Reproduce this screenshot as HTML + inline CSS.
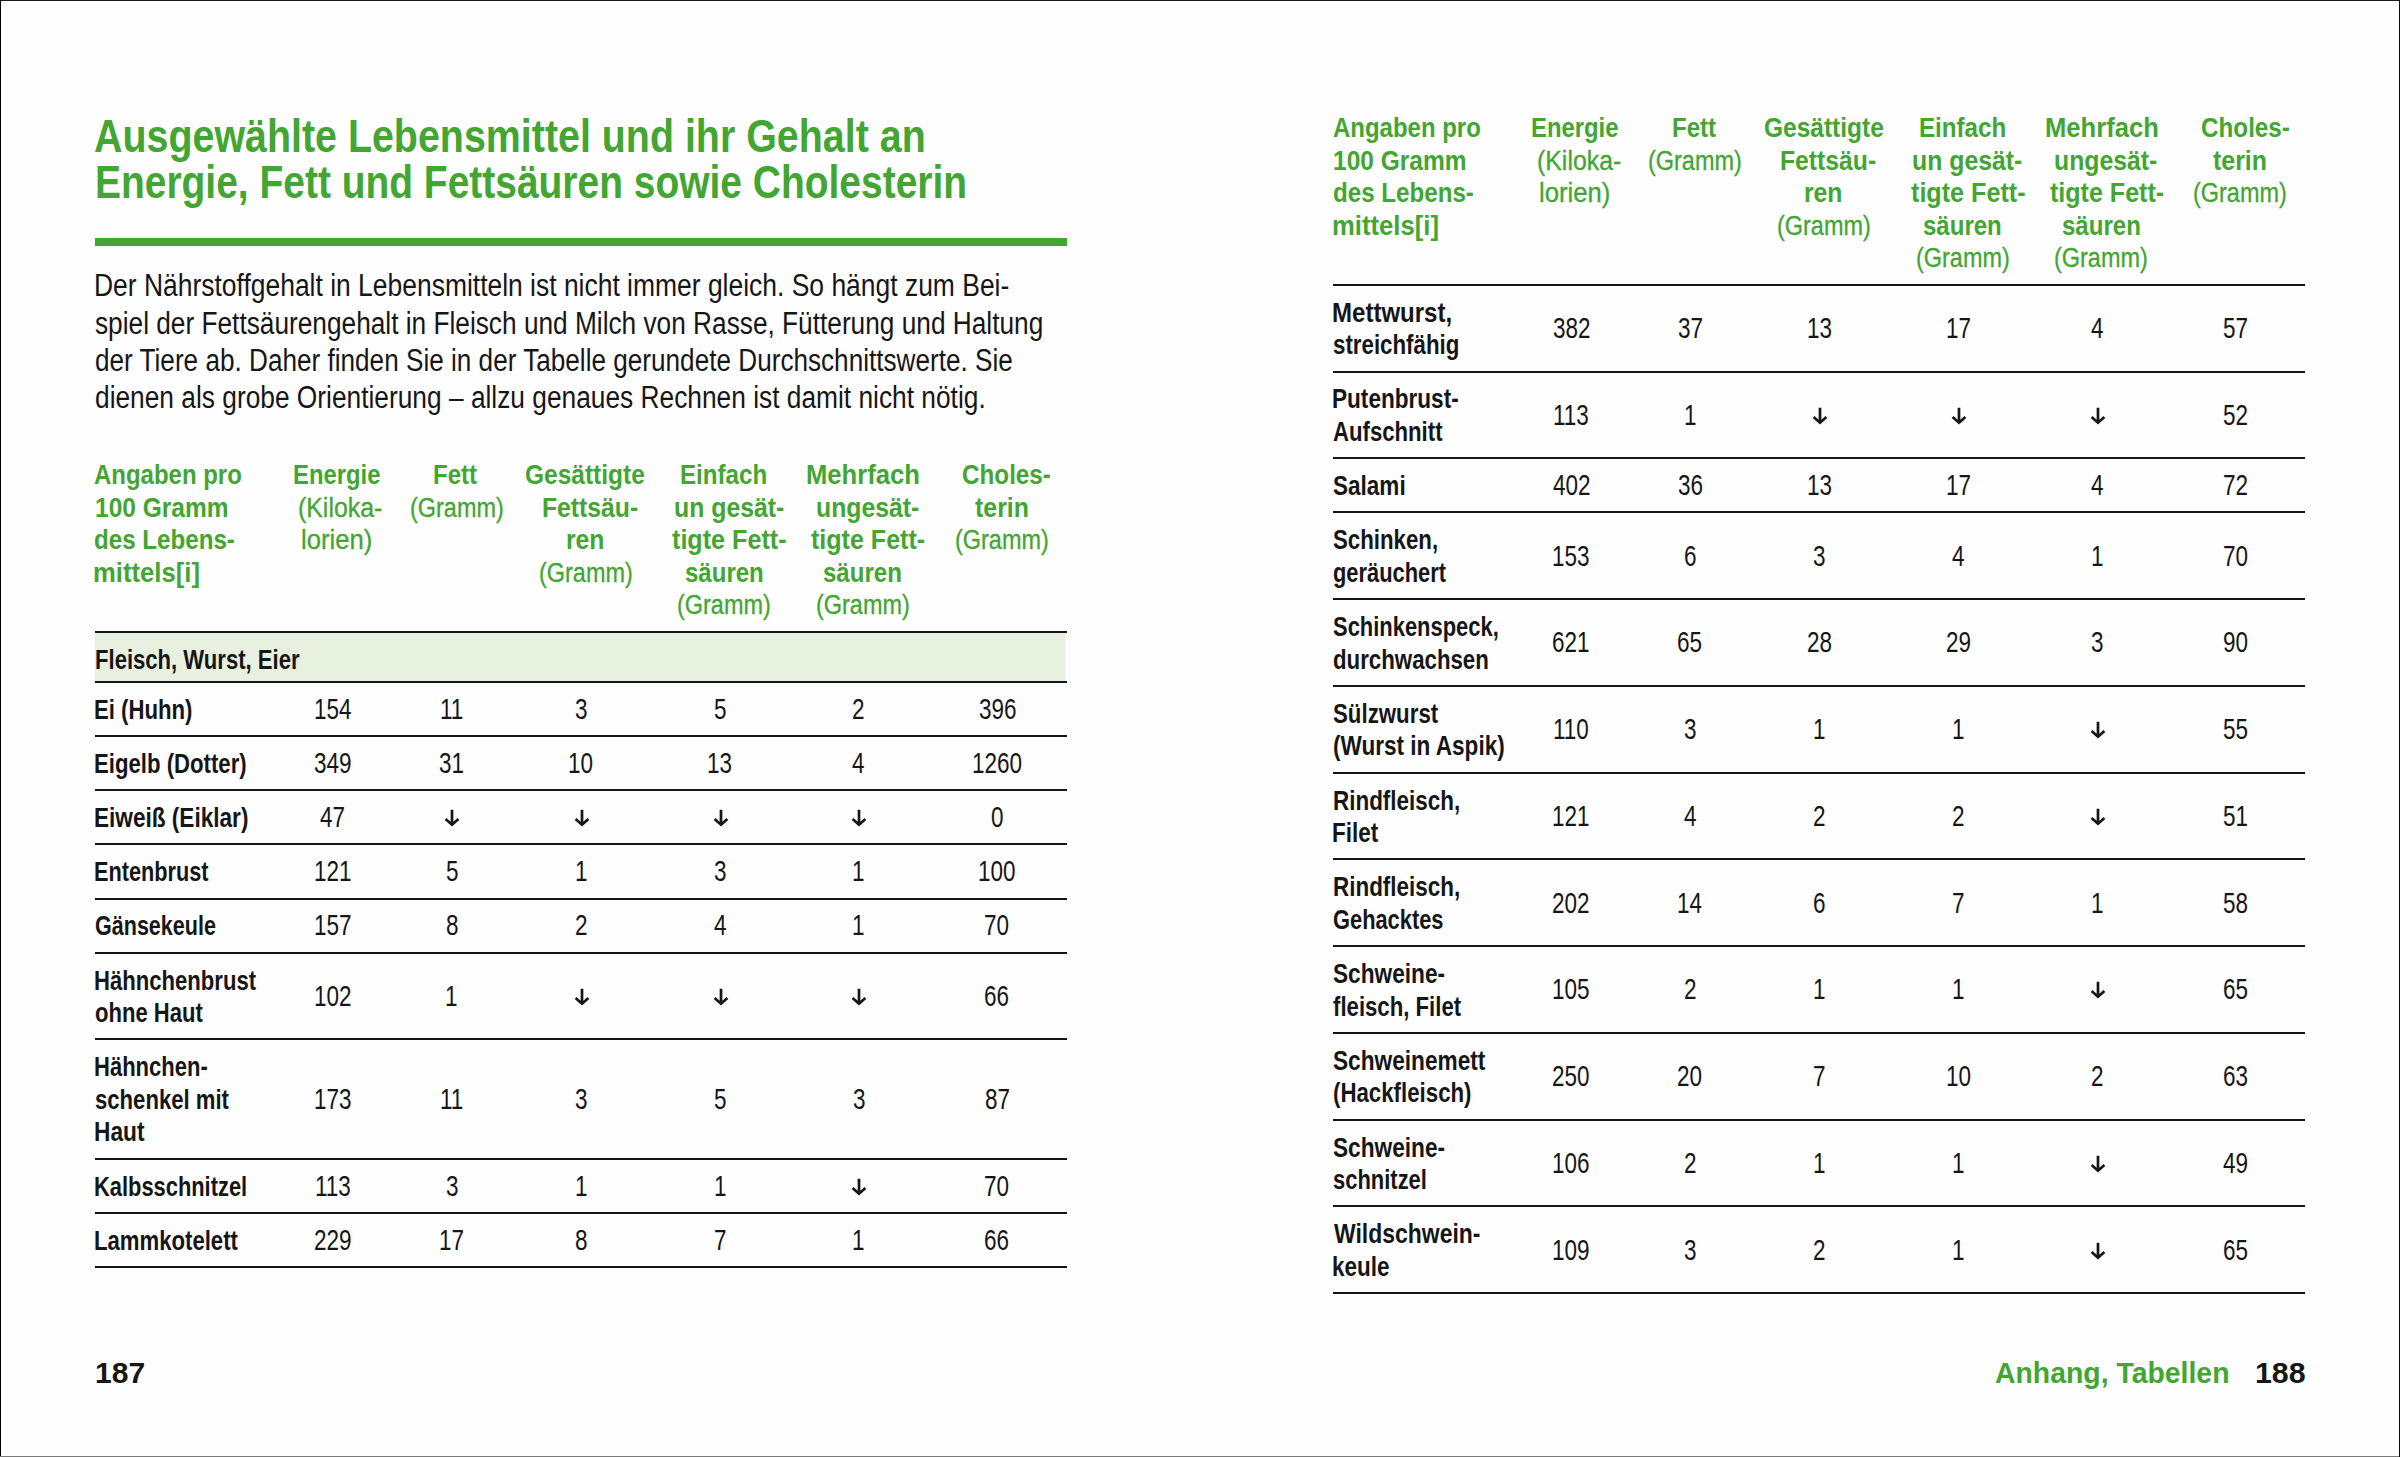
<!DOCTYPE html>
<html><head><meta charset="utf-8"><title>Ausgewählte Lebensmittel</title>
<style>
html,body{margin:0;padding:0;background:#fff}
#page{position:relative;width:2400px;height:1457px;overflow:hidden;background:#fefefe}
.t{position:absolute;white-space:nowrap;font-family:"Liberation Sans",sans-serif;color:#161616;transform-origin:0 0}
.r{position:absolute}
.bd{position:absolute;background:#1a1a1a}
</style></head><body><div id="page">
<div class="bd" style="left:0;top:0;width:2400px;height:1px"></div>
<div class="bd" style="left:0;top:0;width:1px;height:1457px;background:#000"></div>
<div class="bd" style="left:0;top:1456px;width:2400px;height:1px;background:#7a7a7a"></div>
<div class="bd" style="left:2399px;top:0;width:1px;height:1457px;background:#0a0a0a"></div>
<div class="r" style="left:94.6px;top:237.5px;width:972.4px;height:8.3px;background:#43a532"></div>
<div class="r" style="left:94.6px;top:631.0px;width:972.4px;height:2.0px;background:#161616"></div>
<div class="r" style="left:94.6px;top:633.0px;width:970.4px;height:49.1px;background:#e8f0e0"></div>
<div class="r" style="left:94.6px;top:681.1px;width:972.4px;height:2.0px;background:#161616"></div>
<div class="r" style="left:94.6px;top:735.2px;width:972.4px;height:2.0px;background:#161616"></div>
<div class="r" style="left:94.6px;top:789.3px;width:972.4px;height:2.0px;background:#161616"></div>
<div class="r" style="left:94.6px;top:843.4px;width:972.4px;height:2.0px;background:#161616"></div>
<div class="r" style="left:94.6px;top:897.5px;width:972.4px;height:2.0px;background:#161616"></div>
<div class="r" style="left:94.6px;top:951.6px;width:972.4px;height:2.0px;background:#161616"></div>
<div class="r" style="left:94.6px;top:1038.4px;width:972.4px;height:2.0px;background:#161616"></div>
<div class="r" style="left:94.6px;top:1157.8px;width:972.4px;height:2.0px;background:#161616"></div>
<div class="r" style="left:94.6px;top:1211.9px;width:972.4px;height:2.0px;background:#161616"></div>
<div class="r" style="left:94.6px;top:1266.0px;width:972.4px;height:2.0px;background:#161616"></div>
<div class="r" style="left:1333.1px;top:283.8px;width:972.4px;height:2.0px;background:#161616"></div>
<div class="r" style="left:1333.1px;top:370.6px;width:972.4px;height:2.0px;background:#161616"></div>
<div class="r" style="left:1333.1px;top:457.3px;width:972.4px;height:2.0px;background:#161616"></div>
<div class="r" style="left:1333.1px;top:511.4px;width:972.4px;height:2.0px;background:#161616"></div>
<div class="r" style="left:1333.1px;top:598.1px;width:972.4px;height:2.0px;background:#161616"></div>
<div class="r" style="left:1333.1px;top:684.9px;width:972.4px;height:2.0px;background:#161616"></div>
<div class="r" style="left:1333.1px;top:771.6px;width:972.4px;height:2.0px;background:#161616"></div>
<div class="r" style="left:1333.1px;top:858.4px;width:972.4px;height:2.0px;background:#161616"></div>
<div class="r" style="left:1333.1px;top:945.1px;width:972.4px;height:2.0px;background:#161616"></div>
<div class="r" style="left:1333.1px;top:1031.9px;width:972.4px;height:2.0px;background:#161616"></div>
<div class="r" style="left:1333.1px;top:1118.7px;width:972.4px;height:2.0px;background:#161616"></div>
<div class="r" style="left:1333.1px;top:1205.4px;width:972.4px;height:2.0px;background:#161616"></div>
<div class="r" style="left:1333.1px;top:1292.2px;width:972.4px;height:2.0px;background:#161616"></div>
<svg style="position:absolute;left:443.45px;top:808.20px" width="18" height="20" viewBox="0 0 18 20"><path d="M9 1.85V16.9M2.6 11.0L9 16.7L15.4 11.0" fill="none" stroke="#161616" stroke-width="2.7"/></svg>
<svg style="position:absolute;left:572.85px;top:808.20px" width="18" height="20" viewBox="0 0 18 20"><path d="M9 1.85V16.9M2.6 11.0L9 16.7L15.4 11.0" fill="none" stroke="#161616" stroke-width="2.7"/></svg>
<svg style="position:absolute;left:711.85px;top:808.20px" width="18" height="20" viewBox="0 0 18 20"><path d="M9 1.85V16.9M2.6 11.0L9 16.7L15.4 11.0" fill="none" stroke="#161616" stroke-width="2.7"/></svg>
<svg style="position:absolute;left:850.45px;top:808.20px" width="18" height="20" viewBox="0 0 18 20"><path d="M9 1.85V16.9M2.6 11.0L9 16.7L15.4 11.0" fill="none" stroke="#161616" stroke-width="2.7"/></svg>
<svg style="position:absolute;left:572.85px;top:986.80px" width="18" height="20" viewBox="0 0 18 20"><path d="M9 1.85V16.9M2.6 11.0L9 16.7L15.4 11.0" fill="none" stroke="#161616" stroke-width="2.7"/></svg>
<svg style="position:absolute;left:711.85px;top:986.80px" width="18" height="20" viewBox="0 0 18 20"><path d="M9 1.85V16.9M2.6 11.0L9 16.7L15.4 11.0" fill="none" stroke="#161616" stroke-width="2.7"/></svg>
<svg style="position:absolute;left:850.45px;top:986.80px" width="18" height="20" viewBox="0 0 18 20"><path d="M9 1.85V16.9M2.6 11.0L9 16.7L15.4 11.0" fill="none" stroke="#161616" stroke-width="2.7"/></svg>
<svg style="position:absolute;left:850.45px;top:1176.65px" width="18" height="20" viewBox="0 0 18 20"><path d="M9 1.85V16.9M2.6 11.0L9 16.7L15.4 11.0" fill="none" stroke="#161616" stroke-width="2.7"/></svg>
<svg style="position:absolute;left:1811.35px;top:405.75px" width="18" height="20" viewBox="0 0 18 20"><path d="M9 1.85V16.9M2.6 11.0L9 16.7L15.4 11.0" fill="none" stroke="#161616" stroke-width="2.7"/></svg>
<svg style="position:absolute;left:1950.35px;top:405.75px" width="18" height="20" viewBox="0 0 18 20"><path d="M9 1.85V16.9M2.6 11.0L9 16.7L15.4 11.0" fill="none" stroke="#161616" stroke-width="2.7"/></svg>
<svg style="position:absolute;left:2088.95px;top:405.75px" width="18" height="20" viewBox="0 0 18 20"><path d="M9 1.85V16.9M2.6 11.0L9 16.7L15.4 11.0" fill="none" stroke="#161616" stroke-width="2.7"/></svg>
<svg style="position:absolute;left:2088.95px;top:720.10px" width="18" height="20" viewBox="0 0 18 20"><path d="M9 1.85V16.9M2.6 11.0L9 16.7L15.4 11.0" fill="none" stroke="#161616" stroke-width="2.7"/></svg>
<svg style="position:absolute;left:2088.95px;top:806.85px" width="18" height="20" viewBox="0 0 18 20"><path d="M9 1.85V16.9M2.6 11.0L9 16.7L15.4 11.0" fill="none" stroke="#161616" stroke-width="2.7"/></svg>
<svg style="position:absolute;left:2088.95px;top:980.35px" width="18" height="20" viewBox="0 0 18 20"><path d="M9 1.85V16.9M2.6 11.0L9 16.7L15.4 11.0" fill="none" stroke="#161616" stroke-width="2.7"/></svg>
<svg style="position:absolute;left:2088.95px;top:1153.85px" width="18" height="20" viewBox="0 0 18 20"><path d="M9 1.85V16.9M2.6 11.0L9 16.7L15.4 11.0" fill="none" stroke="#161616" stroke-width="2.7"/></svg>
<svg style="position:absolute;left:2088.95px;top:1240.60px" width="18" height="20" viewBox="0 0 18 20"><path d="M9 1.85V16.9M2.6 11.0L9 16.7L15.4 11.0" fill="none" stroke="#161616" stroke-width="2.7"/></svg>
<div class="t" style="left:94.15px;top:110px;font-size:46.5px;line-height:52px;transform:scaleX(0.8471);font-weight:bold;color:#43a532">Ausgewählte Lebensmittel und ihr Gehalt an</div>
<div class="t" style="left:95.39px;top:156px;font-size:46.5px;line-height:52px;transform:scaleX(0.8375);font-weight:bold;color:#43a532">Energie, Fett und Fettsäuren sowie Cholesterin</div>
<div class="t" style="left:93.94px;top:268px;font-size:31px;line-height:35px;transform:scaleX(0.8531)">Der Nährstoffgehalt in Lebensmitteln ist nicht immer gleich. So hängt zum Bei-</div>
<div class="t" style="left:94.65px;top:306px;font-size:31px;line-height:35px;transform:scaleX(0.8466)">spiel der Fettsäurengehalt in Fleisch und Milch von Rasse, Fütterung und Haltung</div>
<div class="t" style="left:94.66px;top:343px;font-size:31px;line-height:35px;transform:scaleX(0.8432)">der Tiere ab. Daher finden Sie in der Tabelle gerundete Durchschnittswerte. Sie</div>
<div class="t" style="left:94.65px;top:380px;font-size:31px;line-height:35px;transform:scaleX(0.8487)">dienen als grobe Orientierung – allzu genaues Rechnen ist damit nicht nötig.</div>
<div class="t" style="left:94.41px;top:460px;font-size:27px;line-height:30px;transform:scaleX(0.8879);font-weight:bold;color:#43a532">Angaben pro</div>
<div class="t" style="left:94.68px;top:493px;font-size:27px;line-height:30px;transform:scaleX(0.9084);font-weight:bold;color:#43a532">100 Gramm</div>
<div class="t" style="left:94.41px;top:525px;font-size:27px;line-height:30px;transform:scaleX(0.8942);font-weight:bold;color:#43a532">des Lebens-</div>
<div class="t" style="left:93.40px;top:558px;font-size:27px;line-height:30px;transform:scaleX(0.9505);font-weight:bold;color:#43a532">mittels[i]</div>
<div class="t" style="left:292.83px;top:460px;font-size:27px;line-height:30px;transform:scaleX(0.8833);font-weight:bold;color:#43a532">Energie</div>
<div class="t" style="left:298.46px;top:493px;font-size:27px;line-height:30px;transform:scaleX(0.9205);-webkit-text-stroke:0.3px currentColor;color:#43a532">(Kiloka-</div>
<div class="t" style="left:300.55px;top:525px;font-size:27px;line-height:30px;transform:scaleX(0.9507);-webkit-text-stroke:0.3px currentColor;color:#43a532">lorien)</div>
<div class="t" style="left:433.37px;top:460px;font-size:27px;line-height:30px;transform:scaleX(0.8915);font-weight:bold;color:#43a532">Fett</div>
<div class="t" style="left:409.61px;top:493px;font-size:27px;line-height:30px;transform:scaleX(0.8683);-webkit-text-stroke:0.3px currentColor;color:#43a532">(Gramm)</div>
<div class="t" style="left:525.29px;top:460px;font-size:27px;line-height:30px;transform:scaleX(0.9077);font-weight:bold;color:#43a532">Gesättigte</div>
<div class="t" style="left:541.77px;top:493px;font-size:27px;line-height:30px;transform:scaleX(0.9157);font-weight:bold;color:#43a532">Fettsäu-</div>
<div class="t" style="left:565.57px;top:525px;font-size:27px;line-height:30px;transform:scaleX(0.9158);font-weight:bold;color:#43a532">ren</div>
<div class="t" style="left:538.71px;top:558px;font-size:27px;line-height:30px;transform:scaleX(0.8683);-webkit-text-stroke:0.3px currentColor;color:#43a532">(Gramm)</div>
<div class="t" style="left:680.36px;top:460px;font-size:27px;line-height:30px;transform:scaleX(0.8947);font-weight:bold;color:#43a532">Einfach</div>
<div class="t" style="left:673.56px;top:493px;font-size:27px;line-height:30px;transform:scaleX(0.9197);font-weight:bold;color:#43a532">un gesät-</div>
<div class="t" style="left:672.25px;top:525px;font-size:27px;line-height:30px;transform:scaleX(0.9320);font-weight:bold;color:#43a532">tigte Fett-</div>
<div class="t" style="left:684.76px;top:558px;font-size:27px;line-height:30px;transform:scaleX(0.8895);font-weight:bold;color:#43a532">säuren</div>
<div class="t" style="left:677.11px;top:590px;font-size:27px;line-height:30px;transform:scaleX(0.8683);-webkit-text-stroke:0.3px currentColor;color:#43a532">(Gramm)</div>
<div class="t" style="left:806.40px;top:460px;font-size:27px;line-height:30px;transform:scaleX(0.9483);font-weight:bold;color:#43a532">Mehrfach</div>
<div class="t" style="left:815.71px;top:493px;font-size:27px;line-height:30px;transform:scaleX(0.9183);font-weight:bold;color:#43a532">ungesät-</div>
<div class="t" style="left:811.20px;top:525px;font-size:27px;line-height:30px;transform:scaleX(0.9279);font-weight:bold;color:#43a532">tigte Fett-</div>
<div class="t" style="left:823.41px;top:558px;font-size:27px;line-height:30px;transform:scaleX(0.8907);font-weight:bold;color:#43a532">säuren</div>
<div class="t" style="left:815.91px;top:590px;font-size:27px;line-height:30px;transform:scaleX(0.8683);-webkit-text-stroke:0.3px currentColor;color:#43a532">(Gramm)</div>
<div class="t" style="left:962.35px;top:460px;font-size:27px;line-height:30px;transform:scaleX(0.8979);font-weight:bold;color:#43a532">Choles-</div>
<div class="t" style="left:974.70px;top:493px;font-size:27px;line-height:30px;transform:scaleX(0.9228);font-weight:bold;color:#43a532">terin</div>
<div class="t" style="left:954.71px;top:525px;font-size:27px;line-height:30px;transform:scaleX(0.8683);-webkit-text-stroke:0.3px currentColor;color:#43a532">(Gramm)</div>
<div class="t" style="left:1332.91px;top:113px;font-size:27px;line-height:30px;transform:scaleX(0.8879);font-weight:bold;color:#43a532">Angaben pro</div>
<div class="t" style="left:1333.18px;top:146px;font-size:27px;line-height:30px;transform:scaleX(0.9084);font-weight:bold;color:#43a532">100 Gramm</div>
<div class="t" style="left:1332.91px;top:178px;font-size:27px;line-height:30px;transform:scaleX(0.8942);font-weight:bold;color:#43a532">des Lebens-</div>
<div class="t" style="left:1331.90px;top:211px;font-size:27px;line-height:30px;transform:scaleX(0.9505);font-weight:bold;color:#43a532">mittels[i]</div>
<div class="t" style="left:1531.33px;top:113px;font-size:27px;line-height:30px;transform:scaleX(0.8833);font-weight:bold;color:#43a532">Energie</div>
<div class="t" style="left:1536.96px;top:146px;font-size:27px;line-height:30px;transform:scaleX(0.9205);-webkit-text-stroke:0.3px currentColor;color:#43a532">(Kiloka-</div>
<div class="t" style="left:1539.05px;top:178px;font-size:27px;line-height:30px;transform:scaleX(0.9507);-webkit-text-stroke:0.3px currentColor;color:#43a532">lorien)</div>
<div class="t" style="left:1671.87px;top:113px;font-size:27px;line-height:30px;transform:scaleX(0.8915);font-weight:bold;color:#43a532">Fett</div>
<div class="t" style="left:1648.11px;top:146px;font-size:27px;line-height:30px;transform:scaleX(0.8683);-webkit-text-stroke:0.3px currentColor;color:#43a532">(Gramm)</div>
<div class="t" style="left:1763.79px;top:113px;font-size:27px;line-height:30px;transform:scaleX(0.9077);font-weight:bold;color:#43a532">Gesättigte</div>
<div class="t" style="left:1780.27px;top:146px;font-size:27px;line-height:30px;transform:scaleX(0.9157);font-weight:bold;color:#43a532">Fettsäu-</div>
<div class="t" style="left:1804.07px;top:178px;font-size:27px;line-height:30px;transform:scaleX(0.9158);font-weight:bold;color:#43a532">ren</div>
<div class="t" style="left:1777.21px;top:211px;font-size:27px;line-height:30px;transform:scaleX(0.8683);-webkit-text-stroke:0.3px currentColor;color:#43a532">(Gramm)</div>
<div class="t" style="left:1918.86px;top:113px;font-size:27px;line-height:30px;transform:scaleX(0.8947);font-weight:bold;color:#43a532">Einfach</div>
<div class="t" style="left:1912.06px;top:146px;font-size:27px;line-height:30px;transform:scaleX(0.9197);font-weight:bold;color:#43a532">un gesät-</div>
<div class="t" style="left:1910.75px;top:178px;font-size:27px;line-height:30px;transform:scaleX(0.9320);font-weight:bold;color:#43a532">tigte Fett-</div>
<div class="t" style="left:1923.26px;top:211px;font-size:27px;line-height:30px;transform:scaleX(0.8895);font-weight:bold;color:#43a532">säuren</div>
<div class="t" style="left:1915.61px;top:243px;font-size:27px;line-height:30px;transform:scaleX(0.8683);-webkit-text-stroke:0.3px currentColor;color:#43a532">(Gramm)</div>
<div class="t" style="left:2044.90px;top:113px;font-size:27px;line-height:30px;transform:scaleX(0.9483);font-weight:bold;color:#43a532">Mehrfach</div>
<div class="t" style="left:2054.21px;top:146px;font-size:27px;line-height:30px;transform:scaleX(0.9183);font-weight:bold;color:#43a532">ungesät-</div>
<div class="t" style="left:2049.70px;top:178px;font-size:27px;line-height:30px;transform:scaleX(0.9279);font-weight:bold;color:#43a532">tigte Fett-</div>
<div class="t" style="left:2061.91px;top:211px;font-size:27px;line-height:30px;transform:scaleX(0.8907);font-weight:bold;color:#43a532">säuren</div>
<div class="t" style="left:2054.41px;top:243px;font-size:27px;line-height:30px;transform:scaleX(0.8683);-webkit-text-stroke:0.3px currentColor;color:#43a532">(Gramm)</div>
<div class="t" style="left:2200.85px;top:113px;font-size:27px;line-height:30px;transform:scaleX(0.8979);font-weight:bold;color:#43a532">Choles-</div>
<div class="t" style="left:2213.20px;top:146px;font-size:27px;line-height:30px;transform:scaleX(0.9228);font-weight:bold;color:#43a532">terin</div>
<div class="t" style="left:2193.21px;top:178px;font-size:27px;line-height:30px;transform:scaleX(0.8683);-webkit-text-stroke:0.3px currentColor;color:#43a532">(Gramm)</div>
<div class="t" style="left:94.52px;top:644px;font-size:28px;line-height:31px;transform:scaleX(0.7887);font-weight:bold">Fleisch, Wurst, Eier</div>
<div class="t" style="left:94.02px;top:694px;font-size:28px;line-height:31px;transform:scaleX(0.7917);font-weight:bold">Ei (Huhn)</div>
<div class="t" style="left:313.93px;top:692px;font-size:29.5px;line-height:33px;transform:scaleX(0.7630)">154</div>
<div class="t" style="left:439.77px;top:692px;font-size:29.5px;line-height:33px;transform:scaleX(0.7630)">11</div>
<div class="t" style="left:574.90px;top:692px;font-size:29.5px;line-height:33px;transform:scaleX(0.7630)">3</div>
<div class="t" style="left:713.90px;top:692px;font-size:29.5px;line-height:33px;transform:scaleX(0.7630)">5</div>
<div class="t" style="left:852.11px;top:692px;font-size:29.5px;line-height:33px;transform:scaleX(0.7630)">2</div>
<div class="t" style="left:978.61px;top:692px;font-size:29.5px;line-height:33px;transform:scaleX(0.7630)">396</div>
<div class="t" style="left:94.02px;top:748px;font-size:28px;line-height:31px;transform:scaleX(0.7916);font-weight:bold">Eigelb (Dotter)</div>
<div class="t" style="left:314.31px;top:746px;font-size:29.5px;line-height:33px;transform:scaleX(0.7630)">349</div>
<div class="t" style="left:439.01px;top:746px;font-size:29.5px;line-height:33px;transform:scaleX(0.7630)">31</div>
<div class="t" style="left:568.03px;top:746px;font-size:29.5px;line-height:33px;transform:scaleX(0.7630)">10</div>
<div class="t" style="left:707.03px;top:746px;font-size:29.5px;line-height:33px;transform:scaleX(0.7630)">13</div>
<div class="t" style="left:852.11px;top:746px;font-size:29.5px;line-height:33px;transform:scaleX(0.7630)">4</div>
<div class="t" style="left:971.74px;top:746px;font-size:29.5px;line-height:33px;transform:scaleX(0.7630)">1260</div>
<div class="t" style="left:93.99px;top:802px;font-size:28px;line-height:31px;transform:scaleX(0.8069);font-weight:bold">Eiweiß (Eiklar)</div>
<div class="t" style="left:320.41px;top:800px;font-size:29.5px;line-height:33px;transform:scaleX(0.7630)">47</div>
<div class="t" style="left:991.20px;top:800px;font-size:29.5px;line-height:33px;transform:scaleX(0.7630)">0</div>
<div class="t" style="left:94.05px;top:856px;font-size:28px;line-height:31px;transform:scaleX(0.7753);font-weight:bold">Entenbrust</div>
<div class="t" style="left:313.93px;top:854px;font-size:29.5px;line-height:33px;transform:scaleX(0.7630)">121</div>
<div class="t" style="left:445.50px;top:854px;font-size:29.5px;line-height:33px;transform:scaleX(0.7630)">5</div>
<div class="t" style="left:574.51px;top:854px;font-size:29.5px;line-height:33px;transform:scaleX(0.7630)">1</div>
<div class="t" style="left:713.90px;top:854px;font-size:29.5px;line-height:33px;transform:scaleX(0.7630)">3</div>
<div class="t" style="left:852.11px;top:854px;font-size:29.5px;line-height:33px;transform:scaleX(0.7630)">1</div>
<div class="t" style="left:978.23px;top:854px;font-size:29.5px;line-height:33px;transform:scaleX(0.7630)">100</div>
<div class="t" style="left:94.83px;top:910px;font-size:28px;line-height:31px;transform:scaleX(0.7690);font-weight:bold">Gänsekeule</div>
<div class="t" style="left:313.93px;top:908px;font-size:29.5px;line-height:33px;transform:scaleX(0.7630)">157</div>
<div class="t" style="left:445.50px;top:908px;font-size:29.5px;line-height:33px;transform:scaleX(0.7630)">8</div>
<div class="t" style="left:574.51px;top:908px;font-size:29.5px;line-height:33px;transform:scaleX(0.7630)">2</div>
<div class="t" style="left:713.51px;top:908px;font-size:29.5px;line-height:33px;transform:scaleX(0.7630)">4</div>
<div class="t" style="left:852.11px;top:908px;font-size:29.5px;line-height:33px;transform:scaleX(0.7630)">1</div>
<div class="t" style="left:984.33px;top:908px;font-size:29.5px;line-height:33px;transform:scaleX(0.7630)">70</div>
<div class="t" style="left:94.02px;top:965px;font-size:28px;line-height:31px;transform:scaleX(0.7892);font-weight:bold">Hähnchenbrust</div>
<div class="t" style="left:94.81px;top:997px;font-size:28px;line-height:31px;transform:scaleX(0.7875);font-weight:bold">ohne Haut</div>
<div class="t" style="left:313.93px;top:979px;font-size:29.5px;line-height:33px;transform:scaleX(0.7630)">102</div>
<div class="t" style="left:445.11px;top:979px;font-size:29.5px;line-height:33px;transform:scaleX(0.7630)">1</div>
<div class="t" style="left:984.33px;top:979px;font-size:29.5px;line-height:33px;transform:scaleX(0.7630)">66</div>
<div class="t" style="left:94.03px;top:1051px;font-size:28px;line-height:31px;transform:scaleX(0.7866);font-weight:bold">Hähnchen-</div>
<div class="t" style="left:94.81px;top:1084px;font-size:28px;line-height:31px;transform:scaleX(0.7899);font-weight:bold">schenkel mit</div>
<div class="t" style="left:93.98px;top:1116px;font-size:28px;line-height:31px;transform:scaleX(0.8117);font-weight:bold">Haut</div>
<div class="t" style="left:313.93px;top:1082px;font-size:29.5px;line-height:33px;transform:scaleX(0.7630)">173</div>
<div class="t" style="left:439.77px;top:1082px;font-size:29.5px;line-height:33px;transform:scaleX(0.7630)">11</div>
<div class="t" style="left:574.90px;top:1082px;font-size:29.5px;line-height:33px;transform:scaleX(0.7630)">3</div>
<div class="t" style="left:713.90px;top:1082px;font-size:29.5px;line-height:33px;transform:scaleX(0.7630)">5</div>
<div class="t" style="left:852.50px;top:1082px;font-size:29.5px;line-height:33px;transform:scaleX(0.7630)">3</div>
<div class="t" style="left:984.71px;top:1082px;font-size:29.5px;line-height:33px;transform:scaleX(0.7630)">87</div>
<div class="t" style="left:94.04px;top:1171px;font-size:28px;line-height:31px;transform:scaleX(0.7812);font-weight:bold">Kalbsschnitzel</div>
<div class="t" style="left:314.69px;top:1169px;font-size:29.5px;line-height:33px;transform:scaleX(0.7630)">113</div>
<div class="t" style="left:445.50px;top:1169px;font-size:29.5px;line-height:33px;transform:scaleX(0.7630)">3</div>
<div class="t" style="left:574.51px;top:1169px;font-size:29.5px;line-height:33px;transform:scaleX(0.7630)">1</div>
<div class="t" style="left:713.51px;top:1169px;font-size:29.5px;line-height:33px;transform:scaleX(0.7630)">1</div>
<div class="t" style="left:984.33px;top:1169px;font-size:29.5px;line-height:33px;transform:scaleX(0.7630)">70</div>
<div class="t" style="left:94.02px;top:1225px;font-size:28px;line-height:31px;transform:scaleX(0.7906);font-weight:bold">Lammkotelett</div>
<div class="t" style="left:313.93px;top:1223px;font-size:29.5px;line-height:33px;transform:scaleX(0.7630)">229</div>
<div class="t" style="left:438.63px;top:1223px;font-size:29.5px;line-height:33px;transform:scaleX(0.7630)">17</div>
<div class="t" style="left:574.90px;top:1223px;font-size:29.5px;line-height:33px;transform:scaleX(0.7630)">8</div>
<div class="t" style="left:713.51px;top:1223px;font-size:29.5px;line-height:33px;transform:scaleX(0.7630)">7</div>
<div class="t" style="left:852.11px;top:1223px;font-size:29.5px;line-height:33px;transform:scaleX(0.7630)">1</div>
<div class="t" style="left:984.33px;top:1223px;font-size:29.5px;line-height:33px;transform:scaleX(0.7630)">66</div>
<div class="t" style="left:1332.38px;top:297px;font-size:28px;line-height:31px;transform:scaleX(0.8581);font-weight:bold">Mettwurst,</div>
<div class="t" style="left:1333.30px;top:329px;font-size:28px;line-height:31px;transform:scaleX(0.7962);font-weight:bold">streichfähig</div>
<div class="t" style="left:1552.81px;top:311px;font-size:29.5px;line-height:33px;transform:scaleX(0.7630)">382</div>
<div class="t" style="left:1677.51px;top:311px;font-size:29.5px;line-height:33px;transform:scaleX(0.7630)">37</div>
<div class="t" style="left:1806.53px;top:311px;font-size:29.5px;line-height:33px;transform:scaleX(0.7630)">13</div>
<div class="t" style="left:1945.53px;top:311px;font-size:29.5px;line-height:33px;transform:scaleX(0.7630)">17</div>
<div class="t" style="left:2090.61px;top:311px;font-size:29.5px;line-height:33px;transform:scaleX(0.7630)">4</div>
<div class="t" style="left:2223.21px;top:311px;font-size:29.5px;line-height:33px;transform:scaleX(0.7630)">57</div>
<div class="t" style="left:1332.49px;top:383px;font-size:28px;line-height:31px;transform:scaleX(0.8065);font-weight:bold">Putenbrust-</div>
<div class="t" style="left:1333.31px;top:416px;font-size:28px;line-height:31px;transform:scaleX(0.7912);font-weight:bold">Aufschnitt</div>
<div class="t" style="left:1553.19px;top:398px;font-size:29.5px;line-height:33px;transform:scaleX(0.7630)">113</div>
<div class="t" style="left:1683.61px;top:398px;font-size:29.5px;line-height:33px;transform:scaleX(0.7630)">1</div>
<div class="t" style="left:2223.21px;top:398px;font-size:29.5px;line-height:33px;transform:scaleX(0.7630)">52</div>
<div class="t" style="left:1333.30px;top:470px;font-size:28px;line-height:31px;transform:scaleX(0.8046);font-weight:bold">Salami</div>
<div class="t" style="left:1552.81px;top:468px;font-size:29.5px;line-height:33px;transform:scaleX(0.7630)">402</div>
<div class="t" style="left:1677.51px;top:468px;font-size:29.5px;line-height:33px;transform:scaleX(0.7630)">36</div>
<div class="t" style="left:1806.53px;top:468px;font-size:29.5px;line-height:33px;transform:scaleX(0.7630)">13</div>
<div class="t" style="left:1945.53px;top:468px;font-size:29.5px;line-height:33px;transform:scaleX(0.7630)">17</div>
<div class="t" style="left:2090.61px;top:468px;font-size:29.5px;line-height:33px;transform:scaleX(0.7630)">4</div>
<div class="t" style="left:2222.83px;top:468px;font-size:29.5px;line-height:33px;transform:scaleX(0.7630)">72</div>
<div class="t" style="left:1333.31px;top:524px;font-size:28px;line-height:31px;transform:scaleX(0.7946);font-weight:bold">Schinken,</div>
<div class="t" style="left:1333.32px;top:557px;font-size:28px;line-height:31px;transform:scaleX(0.7812);font-weight:bold">geräuchert</div>
<div class="t" style="left:1552.43px;top:539px;font-size:29.5px;line-height:33px;transform:scaleX(0.7630)">153</div>
<div class="t" style="left:1683.61px;top:539px;font-size:29.5px;line-height:33px;transform:scaleX(0.7630)">6</div>
<div class="t" style="left:1813.40px;top:539px;font-size:29.5px;line-height:33px;transform:scaleX(0.7630)">3</div>
<div class="t" style="left:1952.01px;top:539px;font-size:29.5px;line-height:33px;transform:scaleX(0.7630)">4</div>
<div class="t" style="left:2090.61px;top:539px;font-size:29.5px;line-height:33px;transform:scaleX(0.7630)">1</div>
<div class="t" style="left:2222.83px;top:539px;font-size:29.5px;line-height:33px;transform:scaleX(0.7630)">70</div>
<div class="t" style="left:1333.32px;top:611px;font-size:28px;line-height:31px;transform:scaleX(0.7833);font-weight:bold">Schinkenspeck,</div>
<div class="t" style="left:1333.31px;top:644px;font-size:28px;line-height:31px;transform:scaleX(0.7948);font-weight:bold">durchwachsen</div>
<div class="t" style="left:1552.43px;top:625px;font-size:29.5px;line-height:33px;transform:scaleX(0.7630)">621</div>
<div class="t" style="left:1677.13px;top:625px;font-size:29.5px;line-height:33px;transform:scaleX(0.7630)">65</div>
<div class="t" style="left:1806.53px;top:625px;font-size:29.5px;line-height:33px;transform:scaleX(0.7630)">28</div>
<div class="t" style="left:1945.53px;top:625px;font-size:29.5px;line-height:33px;transform:scaleX(0.7630)">29</div>
<div class="t" style="left:2091.00px;top:625px;font-size:29.5px;line-height:33px;transform:scaleX(0.7630)">3</div>
<div class="t" style="left:2223.21px;top:625px;font-size:29.5px;line-height:33px;transform:scaleX(0.7630)">90</div>
<div class="t" style="left:1333.30px;top:698px;font-size:28px;line-height:31px;transform:scaleX(0.7954);font-weight:bold">Sülzwurst</div>
<div class="t" style="left:1333.29px;top:730px;font-size:28px;line-height:31px;transform:scaleX(0.8057);font-weight:bold">(Wurst in Aspik)</div>
<div class="t" style="left:1553.19px;top:712px;font-size:29.5px;line-height:33px;transform:scaleX(0.7630)">110</div>
<div class="t" style="left:1684.00px;top:712px;font-size:29.5px;line-height:33px;transform:scaleX(0.7630)">3</div>
<div class="t" style="left:1813.01px;top:712px;font-size:29.5px;line-height:33px;transform:scaleX(0.7630)">1</div>
<div class="t" style="left:1952.01px;top:712px;font-size:29.5px;line-height:33px;transform:scaleX(0.7630)">1</div>
<div class="t" style="left:2223.21px;top:712px;font-size:29.5px;line-height:33px;transform:scaleX(0.7630)">55</div>
<div class="t" style="left:1332.50px;top:785px;font-size:28px;line-height:31px;transform:scaleX(0.8013);font-weight:bold">Rindfleisch,</div>
<div class="t" style="left:1332.49px;top:817px;font-size:28px;line-height:31px;transform:scaleX(0.8036);font-weight:bold">Filet</div>
<div class="t" style="left:1552.43px;top:799px;font-size:29.5px;line-height:33px;transform:scaleX(0.7630)">121</div>
<div class="t" style="left:1683.61px;top:799px;font-size:29.5px;line-height:33px;transform:scaleX(0.7630)">4</div>
<div class="t" style="left:1813.01px;top:799px;font-size:29.5px;line-height:33px;transform:scaleX(0.7630)">2</div>
<div class="t" style="left:1952.01px;top:799px;font-size:29.5px;line-height:33px;transform:scaleX(0.7630)">2</div>
<div class="t" style="left:2223.21px;top:799px;font-size:29.5px;line-height:33px;transform:scaleX(0.7630)">51</div>
<div class="t" style="left:1332.50px;top:871px;font-size:28px;line-height:31px;transform:scaleX(0.8013);font-weight:bold">Rindfleisch,</div>
<div class="t" style="left:1333.32px;top:904px;font-size:28px;line-height:31px;transform:scaleX(0.7799);font-weight:bold">Gehacktes</div>
<div class="t" style="left:1552.43px;top:886px;font-size:29.5px;line-height:33px;transform:scaleX(0.7630)">202</div>
<div class="t" style="left:1677.13px;top:886px;font-size:29.5px;line-height:33px;transform:scaleX(0.7630)">14</div>
<div class="t" style="left:1813.01px;top:886px;font-size:29.5px;line-height:33px;transform:scaleX(0.7630)">6</div>
<div class="t" style="left:1952.01px;top:886px;font-size:29.5px;line-height:33px;transform:scaleX(0.7630)">7</div>
<div class="t" style="left:2090.61px;top:886px;font-size:29.5px;line-height:33px;transform:scaleX(0.7630)">1</div>
<div class="t" style="left:2223.21px;top:886px;font-size:29.5px;line-height:33px;transform:scaleX(0.7630)">58</div>
<div class="t" style="left:1333.29px;top:958px;font-size:28px;line-height:31px;transform:scaleX(0.8095);font-weight:bold">Schweine-</div>
<div class="t" style="left:1333.31px;top:991px;font-size:28px;line-height:31px;transform:scaleX(0.7919);font-weight:bold">fleisch, Filet</div>
<div class="t" style="left:1552.43px;top:972px;font-size:29.5px;line-height:33px;transform:scaleX(0.7630)">105</div>
<div class="t" style="left:1683.61px;top:972px;font-size:29.5px;line-height:33px;transform:scaleX(0.7630)">2</div>
<div class="t" style="left:1813.01px;top:972px;font-size:29.5px;line-height:33px;transform:scaleX(0.7630)">1</div>
<div class="t" style="left:1952.01px;top:972px;font-size:29.5px;line-height:33px;transform:scaleX(0.7630)">1</div>
<div class="t" style="left:2222.83px;top:972px;font-size:29.5px;line-height:33px;transform:scaleX(0.7630)">65</div>
<div class="t" style="left:1333.29px;top:1045px;font-size:28px;line-height:31px;transform:scaleX(0.8091);font-weight:bold">Schweinemett</div>
<div class="t" style="left:1333.31px;top:1077px;font-size:28px;line-height:31px;transform:scaleX(0.7948);font-weight:bold">(Hackfleisch)</div>
<div class="t" style="left:1552.43px;top:1059px;font-size:29.5px;line-height:33px;transform:scaleX(0.7630)">250</div>
<div class="t" style="left:1677.13px;top:1059px;font-size:29.5px;line-height:33px;transform:scaleX(0.7630)">20</div>
<div class="t" style="left:1813.01px;top:1059px;font-size:29.5px;line-height:33px;transform:scaleX(0.7630)">7</div>
<div class="t" style="left:1945.53px;top:1059px;font-size:29.5px;line-height:33px;transform:scaleX(0.7630)">10</div>
<div class="t" style="left:2090.61px;top:1059px;font-size:29.5px;line-height:33px;transform:scaleX(0.7630)">2</div>
<div class="t" style="left:2222.83px;top:1059px;font-size:29.5px;line-height:33px;transform:scaleX(0.7630)">63</div>
<div class="t" style="left:1333.29px;top:1132px;font-size:28px;line-height:31px;transform:scaleX(0.8095);font-weight:bold">Schweine-</div>
<div class="t" style="left:1333.32px;top:1164px;font-size:28px;line-height:31px;transform:scaleX(0.7838);font-weight:bold">schnitzel</div>
<div class="t" style="left:1552.43px;top:1146px;font-size:29.5px;line-height:33px;transform:scaleX(0.7630)">106</div>
<div class="t" style="left:1683.61px;top:1146px;font-size:29.5px;line-height:33px;transform:scaleX(0.7630)">2</div>
<div class="t" style="left:1813.01px;top:1146px;font-size:29.5px;line-height:33px;transform:scaleX(0.7630)">1</div>
<div class="t" style="left:1952.01px;top:1146px;font-size:29.5px;line-height:33px;transform:scaleX(0.7630)">1</div>
<div class="t" style="left:2223.21px;top:1146px;font-size:29.5px;line-height:33px;transform:scaleX(0.7630)">49</div>
<div class="t" style="left:1334.10px;top:1218px;font-size:28px;line-height:31px;transform:scaleX(0.8197);font-weight:bold">Wildschwein-</div>
<div class="t" style="left:1332.49px;top:1251px;font-size:28px;line-height:31px;transform:scaleX(0.8036);font-weight:bold">keule</div>
<div class="t" style="left:1552.43px;top:1233px;font-size:29.5px;line-height:33px;transform:scaleX(0.7630)">109</div>
<div class="t" style="left:1684.00px;top:1233px;font-size:29.5px;line-height:33px;transform:scaleX(0.7630)">3</div>
<div class="t" style="left:1813.01px;top:1233px;font-size:29.5px;line-height:33px;transform:scaleX(0.7630)">2</div>
<div class="t" style="left:1952.01px;top:1233px;font-size:29.5px;line-height:33px;transform:scaleX(0.7630)">1</div>
<div class="t" style="left:2222.83px;top:1233px;font-size:29.5px;line-height:33px;transform:scaleX(0.7630)">65</div>
<div class="t" style="left:95.10px;top:1356px;font-size:30px;line-height:33px;transform:scaleX(1.0000);font-weight:bold">187</div>
<div class="t" style="left:1994.62px;top:1357px;font-size:29px;line-height:32px;transform:scaleX(0.9789);font-weight:bold;color:#43a532">Anhang, Tabellen</div>
<div class="t" style="left:2254.88px;top:1356px;font-size:30px;line-height:33px;transform:scaleX(1.0106);font-weight:bold">188</div>
</div></body></html>
